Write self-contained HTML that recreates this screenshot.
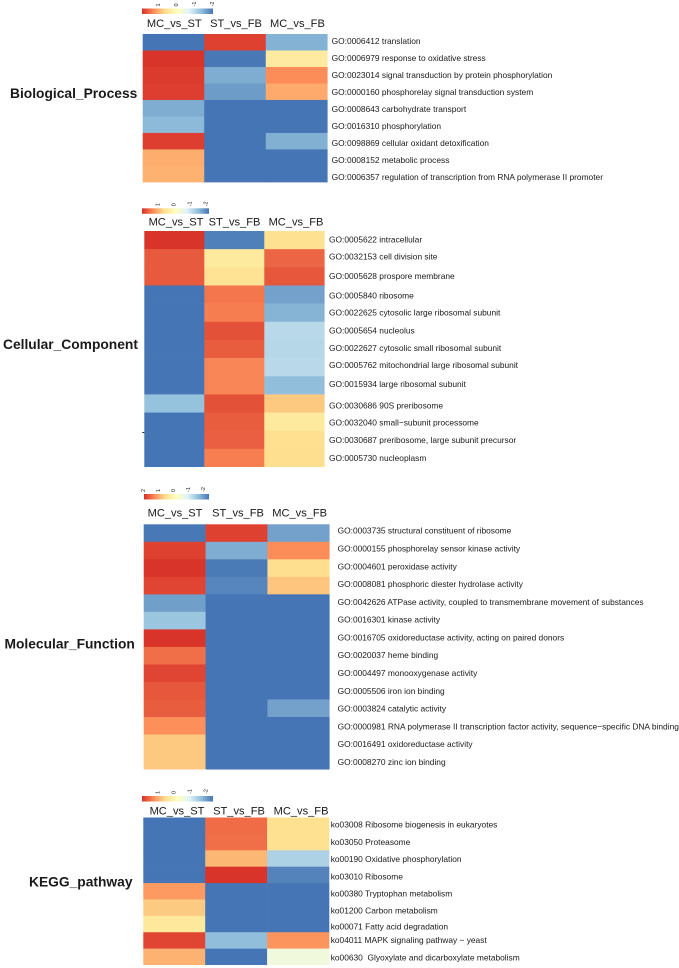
<!DOCTYPE html>
<html lang="en">
<head>
<meta charset="utf-8">
<title>GO and KEGG enrichment heatmaps</title>
<style>
html,body{margin:0;padding:0;background:#fff;width:679px;height:968px;overflow:hidden}
svg{display:block;filter:blur(0.3px)}
text{font-family:"Liberation Sans",Arial,sans-serif;fill:#1a1a1a}
</style>
</head>
<body>
<svg id="chart" xmlns="http://www.w3.org/2000/svg" width="679" height="968" viewBox="0 0 679 968">
<defs id="defs"></defs>
</svg>
<script>
// Shared column names and colour scale
const columns = ["MC_vs_ST", "ST_vs_FB", "MC_vs_FB"];
const paletteStops = ["#d73027", "#fc8d59", "#fee090", "#ffffbf", "#e0f3f8", "#91bfdb", "#4575b4"];
const scaleMax = 2;
const scaleMin = -2;

// Biological process
const bpTerms = [
  "GO:0006412 translation",
  "GO:0006979 response to oxidative stress",
  "GO:0023014 signal transduction by protein phosphorylation",
  "GO:0000160 phosphorelay signal transduction system",
  "GO:0008643 carbohydrate transport",
  "GO:0016310 phosphorylation",
  "GO:0098869 cellular oxidant detoxification",
  "GO:0008152 metabolic process",
  "GO:0006357 regulation of transcription from RNA polymerase II promoter"
];
const bpMcSt = [-2, 1.97, 1.92, 1.9, -1.5, -1.38, 1.9, 1.08, 1.04];
const bpStFb = [1.88, -1.97, -1.5, -1.65, -2, -2, -2, -2, -2];
const bpMcFb = [-1.45, 0.42, 1.33, 1.1, -2, -2, -1.47, -2, -2];
const bpTicks = ["1", "0", "-1", "-2"];

// Cellular component
const ccTerms = [
  "GO:0005622 intracellular",
  "GO:0032153 cell division site",
  "GO:0005628 prospore membrane",
  "GO:0005840 ribosome",
  "GO:0022625 cytosolic large ribosomal subunit",
  "GO:0005654 nucleolus",
  "GO:0022627 cytosolic small ribosomal subunit",
  "GO:0005762 mitochondrial large ribosomal subunit",
  "GO:0015934 large ribosomal subunit",
  "GO:0030686 90S preribosome",
  "GO:0032040 small\u2212subunit processome",
  "GO:0030687 preribosome, large subunit precursor",
  "GO:0005730 nucleoplasm"
];
const ccMcSt = [1.97, 1.7, 1.7, -2, -2, -2, -2, -2, -2, -1.3, -2, -2, -2];
const ccStFb = [-1.9, 0.45, 0.6, 1.5, 1.45, 1.76, 1.68, 1.38, 1.38, 1.76, 1.68, 1.66, 1.44];
const ccMcFb = [0.65, 1.62, 1.72, -1.6, -1.43, -1.0, -1.03, -1.0, -1.33, 0.85, 0.45, 0.67, 0.68];
const ccTicks = ["1", "0", "-1", "-2"];

// Molecular function
const mfTerms = [
  "GO:0003735 structural constituent of ribosome",
  "GO:0000155 phosphorelay sensor kinase activity",
  "GO:0004601 peroxidase activity",
  "GO:0008081 phosphoric diester hydrolase activity",
  "GO:0042626 ATPase activity, coupled to transmembrane movement of substances",
  "GO:0016301 kinase activity",
  "GO:0016705 oxidoreductase activity, acting on paired donors",
  "GO:0020037 heme binding",
  "GO:0004497 monooxygenase activity",
  "GO:0005506 iron ion binding",
  "GO:0003824 catalytic activity",
  "GO:0000981 RNA polymerase II transcription factor activity, sequence\u2212specific DNA binding",
  "GO:0016491 oxidoreductase activity",
  "GO:0008270 zinc ion binding"
];
const mfMcSt = [-1.97, 1.88, 1.97, 1.85, -1.62, -1.25, 1.97, 1.55, 1.85, 1.72, 1.68, 1.32, 0.86, 0.85];
const mfStFb = [1.88, -1.5, -1.95, -1.85, -2, -2, -2, -2, -2, -2, -2, -2, -2, -2];
const mfMcFb = [-1.6, 1.33, 0.68, 0.88, -2, -2, -2, -2, -2, -2, -1.6, -2, -2, -2];
const mfTicks = ["2", "1", "0", "-1", "-2"];

// KEGG pathway
const kgTerms = [
  "ko03008 Ribosome biogenesis in eukaryotes",
  "ko03050 Proteasome",
  "ko00190 Oxidative phosphorylation",
  "ko03010 Ribosome",
  "ko00380 Tryptophan metabolism",
  "ko01200 Carbon metabolism",
  "ko00071 Fatty acid degradation",
  "ko04011 MAPK signaling pathway \u2212 yeast",
  "ko00630  Glyoxylate and dicarboxylate metabolism"
];
const kgMcSt = [-2, -2, -2, -2, 1.23, 0.84, 0.5, 1.85, 1.04];
const kgStFb = [1.57, 1.55, 1.0, 1.97, -2, -2, -2, -1.33, -2];
const kgMcFb = [0.65, 0.65, -1.1, -1.87, -2, -2, -2, 1.28, -0.33];
const kgTicks = ["1", "0", "-1", "-2"];

const NS = "http://www.w3.org/2000/svg";
const svg = document.getElementById("chart");
const defs = document.getElementById("defs");

function hexToRgb(h) {
  return [parseInt(h.slice(1, 3), 16), parseInt(h.slice(3, 5), 16), parseInt(h.slice(5, 7), 16)];
}
function colorScale(v) {
  const t = Math.max(0, Math.min(1, (scaleMax - v) / (scaleMax - scaleMin)));
  const p = t * (paletteStops.length - 1);
  const i = Math.min(paletteStops.length - 2, Math.floor(p));
  const f = p - i;
  const a = hexToRgb(paletteStops[i]);
  const b = hexToRgb(paletteStops[i + 1]);
  const c = a.map((x, k) => Math.round(x + (b[k] - x) * f));
  return "rgb(" + c.join(",") + ")";
}
function make(tag, attrs, parent) {
  const el = document.createElementNS(NS, tag);
  for (const k in attrs) el.setAttribute(k, attrs[k]);
  parent.appendChild(el);
  return el;
}

// Gradient shared by all colour keys
const grad = make("linearGradient", { id: "keyGrad", x1: "0", x2: "1", y1: "0", y2: "0" }, defs);
paletteStops.forEach(function (c, i) {
  make("stop", { offset: i / (paletteStops.length - 1), "stop-color": c }, grad);
});

function drawPanel(slug, title, terms, series, ticks, g) {
  const panel = make("g", {}, svg);
  
  

  const titleEl = make("text", { x: g.titleX, y: g.titleY, "font-size": 13.8, "font-weight": "bold" }, panel);
  titleEl.textContent = title;
  
  

  // colour key
  const key = make("rect", { x: g.keyX, y: g.keyY, width: g.keyW, height: 5.5, fill: "url(#keyGrad)" }, panel);
  
  
  const keyScale = function (v) { return g.keyTick0 + (g.keyTick1 - g.keyTick0) * (1 - v); };
  ticks.forEach(function (t) {
    const tx = keyScale(Number(t));
    const lab = make("text", {
      x: tx, y: g.keyY - 2, "font-size": 5.5, "text-anchor": "start",
      transform: "rotate(-90 " + tx + " " + (g.keyY - 2) + ")", dy: "2"
    }, panel);
    lab.textContent = t;
    
    
  });

  // axis functions
  const colW = (g.right - g.left) / columns.length;
  const rowH = (g.bottom - g.top) / terms.length;
  const xPos = function (c) { return g.left + c * colW; };
  const yPos = function (r) { return g.top + r * rowH; };
  const labelStep = (g.labelLast - g.labelFirst) / (terms.length - 1);
  const labelY = function (r) { return g.labelFirst + r * labelStep + (g.labelNudge ? g.labelNudge[r] : 0) + 3; };

  columns.forEach(function (name, c) {
    const h = make("text", {
      x: xPos(c) + colW / 2 + g.headShift[c], y: g.headY, "font-size": 11.1, "text-anchor": "middle"
    }, panel);
    h.textContent = name;
    
    
  });

  series.forEach(function (vals, c) {
    vals.forEach(function (v, r) {
      const cell = make("rect", {
        x: xPos(c), y: yPos(r), width: colW + 0.3, height: rowH + (r === vals.length - 1 ? 0 : 0.3), fill: colorScale(v)
      }, panel);
      
      
    });
  });

  terms.forEach(function (term, r) {
    const t = make("text", { x: g.labelX, y: labelY(r), "font-size": 8.4 }, panel);
    t.textContent = term;
    t.style.whiteSpace = "pre";
    
    
  });
}

drawPanel("biological-process", "Biological_Process", bpTerms, [bpMcSt, bpStFb, bpMcFb], bpTicks, {
  left: 142.7, right: 327.3, top: 34, bottom: 182.4,
  labelX: 331.6, labelFirst: 41, labelLast: 177,
  headY: 27, headShift: [0.8, 1, 0.9],
  titleX: 10, titleY: 98,
  keyX: 142, keyY: 8.5, keyW: 71, keyTick0: 158, keyTick1: 176
});
drawPanel("cellular-component", "Cellular_Component", ccTerms, [ccMcSt, ccStFb, ccMcFb], ccTicks, {
  left: 144.3, right: 324.3, top: 231, bottom: 467,
  labelX: 329, labelFirst: 239.7, labelLast: 458,
  labelNudge: [0, -1.2, 0, 1, 0, 0, -1, -2, -1, 2, 1, 0, 0],
  headY: 225.7, headShift: [1.7, 0.2, 1.7],
  titleX: 3, titleY: 349,
  keyX: 142, keyY: 208.3, keyW: 67, keyTick0: 157.5, keyTick1: 173.5
});
drawPanel("molecular-function", "Molecular_Function", mfTerms, [mfMcSt, mfStFb, mfMcFb], mfTicks, {
  left: 143.7, right: 329.3, top: 524.3, bottom: 769.5,
  labelX: 337.6, labelFirst: 530.7, labelLast: 762,
  headY: 516.7, headShift: [0.4, 1.5, 1.3],
  titleX: 4.5, titleY: 648.5,
  keyX: 144, keyY: 494, keyW: 65, keyTick0: 158, keyTick1: 173
});
drawPanel("kegg-pathway", "KEGG_pathway", kgTerms, [kgMcSt, kgStFb, kgMcFb], kgTicks, {
  left: 143.3, right: 329, top: 817.5, bottom: 965,
  labelX: 330.7, labelFirst: 824.3, labelLast: 957.7,
  labelNudge: [0, 1, 1.3, 2, 2.3, 3, 2, -1, 0],
  headY: 814.5, headShift: [2.75, 2.85, 3],
  titleX: 29, titleY: 886.5,
  keyX: 142, keyY: 796, keyW: 71, keyTick0: 157.5, keyTick1: 173.5
});

// Stray tick mark at the left of the cellular component panel
const strayTick = make("rect", { x: 142.3, y: 432, width: 2, height: 1, fill: "#222" }, svg);


</script>
</body>
</html>
